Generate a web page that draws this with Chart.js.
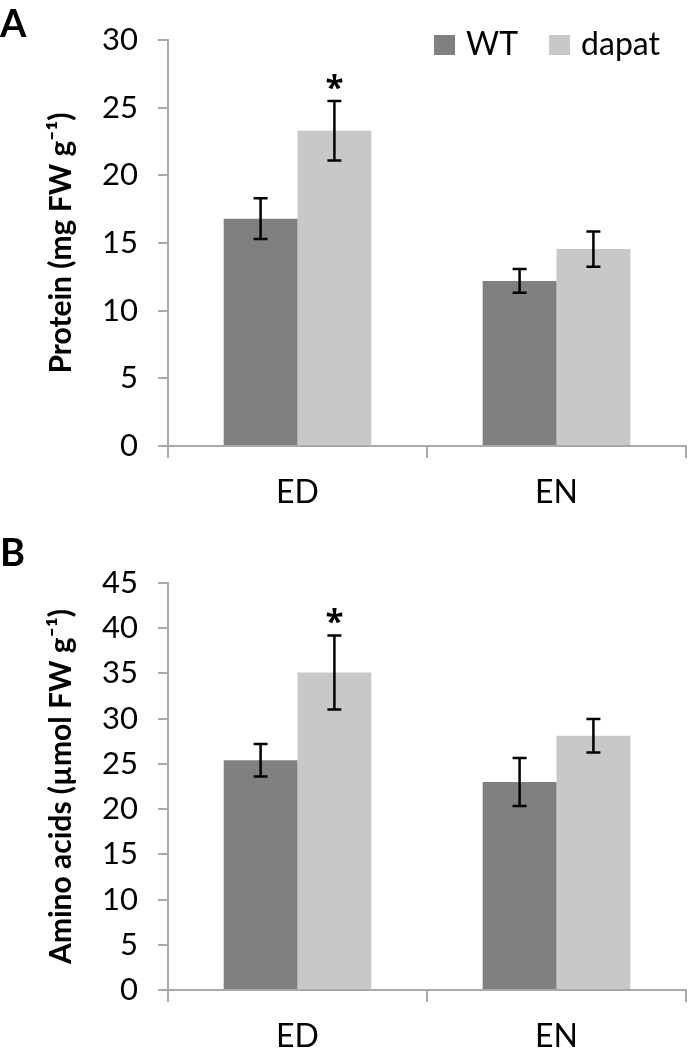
<!DOCTYPE html>
<html>
<head>
<meta charset="utf-8">
<script src="https://cdn.jsdelivr.net/npm/chart.js@4.4.1/dist/chart.umd.min.js"></script>
<style>
html, body { margin: 0; padding: 0; background: #fff; }
.panel { position: absolute; left: 0; width: 689px; }
</style>
</head>
<body>
<div class="panel" style="top:0;height:520px"><canvas id="chartA"></canvas></div>
<div class="panel" style="top:520px;height:542px"><canvas id="chartB"></canvas></div>
<script>
var categories = ['ED', 'EN'];
var seriesNames = ['WT', 'dapat'];

// A: protein
var proteinWT = [16.8, 12.2];
var proteinWTErr = [1.5, 0.87];
var proteinDapat = [23.3, 14.55];
var proteinDapatErr = [2.2, 1.3];
var proteinMarks = ['*', ''];

// B: amino acids
var aminoWT = [25.4, 23.0];
var aminoWTErr = [1.8, 2.65];
var aminoDapat = [35.1, 28.1];
var aminoDapatErr = [4.1, 1.85];
var aminoMarks = ['*', ''];

var yTicksA = {max: 30, step: 5};
var yTicksB = {max: 45, step: 5};

var colors = ['#808080', '#c8c8c8'];
var axisColor = '#a9a9a9';
var fontFamily = 'Lato, "Open Sans", sans-serif';

// error bars + significance stars, drawn through the y scale
var errorBars = {
    id: 'errorBars',
    afterDatasetsDraw: function(chart) {
        var ctx = chart.ctx;
        var y = chart.scales.y;
        chart.data.datasets.forEach(function(ds, i) {
            var meta = chart.getDatasetMeta(i);
            meta.data.forEach(function(bar, j) {
                var v = ds.data[j], e = ds.errors[j];
                var top = y.getPixelForValue(v + e);
                var bot = y.getPixelForValue(v - e);
                ctx.save();
                ctx.strokeStyle = '#000';
                ctx.lineWidth = 2.5;
                ctx.beginPath();
                ctx.moveTo(bar.x, top); ctx.lineTo(bar.x, bot);
                ctx.moveTo(bar.x - 7, top); ctx.lineTo(bar.x + 7, top);
                ctx.moveTo(bar.x - 7, bot); ctx.lineTo(bar.x + 7, bot);
                ctx.stroke();
                if (ds.marks && ds.marks[j]) {
                    ctx.fillStyle = '#000';
                    ctx.font = 'bold 33px "Open Sans", sans-serif';
                    ctx.textAlign = 'center';
                    ctx.textBaseline = 'alphabetic';
                    ctx.fillText(ds.marks[j], bar.x, top - 2);
                }
                ctx.restore();
            });
        });
    }
};

function panelLabel(letter, baseY) {
    return {
        id: 'panel' + letter,
        afterDraw: function(chart) {
            var ctx = chart.ctx;
            ctx.save();
            ctx.fillStyle = '#000';
            ctx.font = 'bold 38px ' + fontFamily;
            ctx.textAlign = 'left';
            ctx.textBaseline = 'alphabetic';
            ctx.fillText(letter, 0, baseY);
            ctx.restore();
        }
    };
}

// legend sits inside the plot, top right
var cornerLegend = {
    id: 'cornerLegend',
    afterDraw: function(chart) {
        var ctx = chart.ctx;
        var area = chart.chartArea;
        ctx.save();
        ctx.font = '32px ' + fontFamily;
        ctx.textBaseline = 'alphabetic';
        ctx.textAlign = 'left';
        var box = 21, gap = 11, between = 31;
        var widths = chart.data.datasets.map(function(ds) { return ctx.measureText(ds.label).width; });
        var total = 0;
        widths.forEach(function(w, i) { total += box + gap + w + (i > 0 ? between : 0); });
        var x = area.right - 26 - total;
        chart.data.datasets.forEach(function(ds, i) {
            ctx.fillStyle = ds.backgroundColor;
            ctx.fillRect(x, area.top - 5, box, box - 1);
            ctx.fillStyle = '#000';
            ctx.fillText(ds.label, x + box + gap, area.top + 15);
            x += box + gap + widths[i] + between;
        });
        ctx.restore();
    }
};

function makeOptions(yTitle, ticks, padTop, xHeight) {
    return {
        responsive: true,
        maintainAspectRatio: false,
        animation: false,
        layout: {padding: {left: 43, right: 3, top: padTop, bottom: 0}},
        plugins: {legend: {display: false}, tooltip: {enabled: false}},
        scales: {
            x: {
                grid: {offset: true, drawOnChartArea: false, drawTicks: true, tickLength: 12, color: axisColor, lineWidth: 2},
                border: {color: axisColor, width: 2},
                ticks: {font: {family: fontFamily, size: 32}, color: '#000', padding: 15},
                afterFit: function(s) { s.height = xHeight; }
            },
            y: {
                min: 0,
                max: ticks.max,
                ticks: {stepSize: ticks.step, font: {family: fontFamily, size: 31}, color: '#000', padding: 20},
                grid: {drawOnChartArea: false, drawTicks: true, tickLength: 10, color: axisColor, lineWidth: 2},
                border: {color: axisColor, width: 2},
                title: {display: true, text: yTitle, font: {family: fontFamily, size: 30, weight: 'bold'}, color: '#000', padding: 0},
                afterFit: function(s) { s.width = 125; }
            }
        }
    };
}

function makeData(wt, wtErr, dp, dpErr, marks) {
    return {
        labels: categories,
        datasets: [
            {label: seriesNames[0], data: wt, errors: wtErr, backgroundColor: colors[0],
             categoryPercentage: 0.57, barPercentage: 1.0},
            {label: seriesNames[1], data: dp, errors: dpErr, marks: marks, backgroundColor: colors[1],
             categoryPercentage: 0.57, barPercentage: 1.0}
        ]
    };
}

new Chart(document.getElementById('chartA'), {
    type: 'bar',
    data: makeData(proteinWT, proteinWTErr, proteinDapat, proteinDapatErr, proteinMarks),
    options: makeOptions('Protein (mg FW g\u207B\u00B9)', yTicksA, 40, 74),
    plugins: [errorBars, cornerLegend, panelLabel('A', 37)]
});

new Chart(document.getElementById('chartB'), {
    type: 'bar',
    data: makeData(aminoWT, aminoWTErr, aminoDapat, aminoDapatErr, aminoMarks),
    options: makeOptions('Amino acids (\u00B5mol FW g\u207B\u00B9)', yTicksB, 63, 72),
    plugins: [errorBars, panelLabel('B', 46)]
});
</script>
</body>
</html>
